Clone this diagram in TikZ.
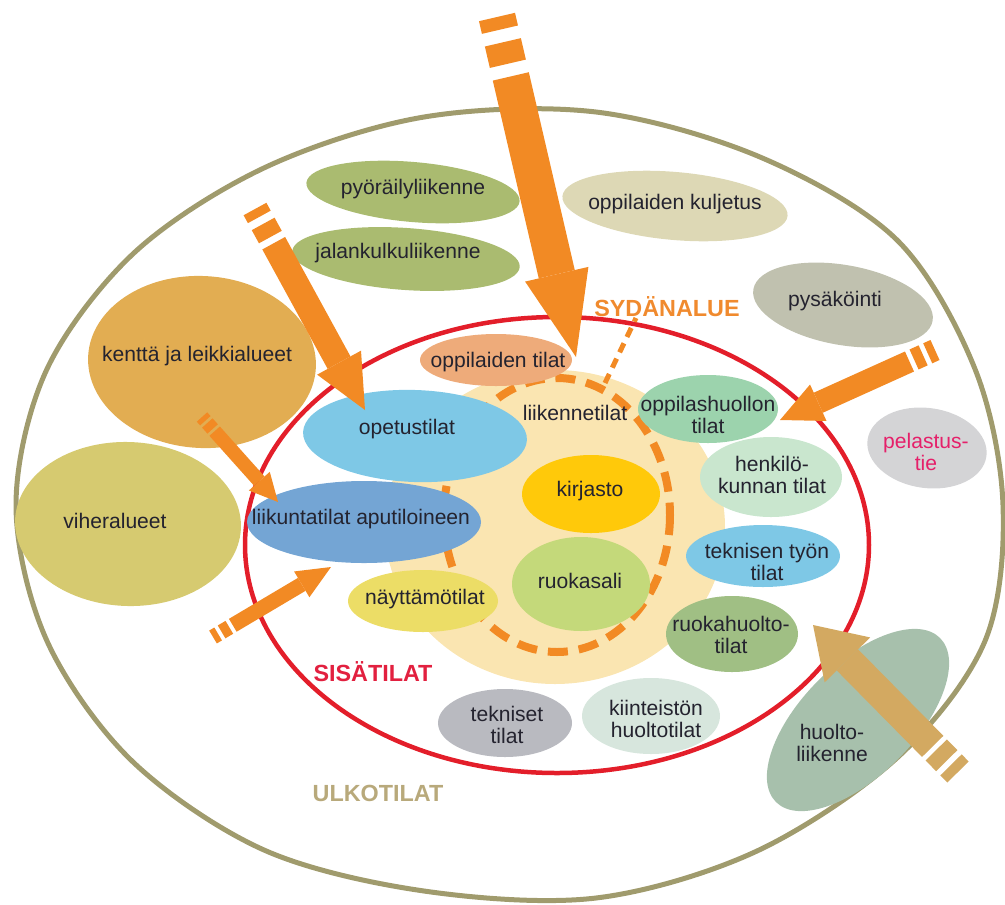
\documentclass[tikz,border=0pt]{standalone}
\usepackage{fontspec}
\setmainfont{Liberation Sans}
\usetikzlibrary{arrows.meta}

\definecolor{ulkoline}{HTML}{A09B6D}
\definecolor{ulkotext}{HTML}{B8A97B}
\definecolor{sisaline}{HTML}{E31E2A}
\definecolor{sisatext}{HTML}{E2203F}
\definecolor{sydantext}{HTML}{F08A2E}
\definecolor{arrorange}{HTML}{F28A24}
\definecolor{arrtan}{HTML}{D3A961}
\definecolor{sydanbg}{HTML}{FAE5B1}
\definecolor{ink}{HTML}{24232F}
\definecolor{pyoC}{HTML}{AABB70}
\definecolor{kuljC}{HTML}{DDD8B5}
\definecolor{pysC}{HTML}{C0C1AF}
\definecolor{pelC}{HTML}{D4D4D6}
\definecolor{peltext}{HTML}{E5206A}
\definecolor{kenttaC}{HTML}{E2AD52}
\definecolor{viherC}{HTML}{D6CA70}
\definecolor{huoltoC}{HTML}{A7C0AC}
\definecolor{opetusC}{HTML}{7EC8E6}
\definecolor{liikuntaC}{HTML}{74A5D4}
\definecolor{optilaC}{HTML}{EEAB7A}
\definecolor{ophuoC}{HTML}{9CD3AD}
\definecolor{henkC}{HTML}{C9E6CE}
\definecolor{ruokahC}{HTML}{A0BF84}
\definecolor{kirjC}{HTML}{FFC90A}
\definecolor{ruokasC}{HTML}{C4D97A}
\definecolor{nayttC}{HTML}{ECDD66}
\definecolor{teknC}{HTML}{B9BAC0}
\definecolor{kiintC}{HTML}{D7E6DD}

\begin{document}
\begin{tikzpicture}[
        x=0.02cm, y=-0.02cm,
        every node/.style={font=\fontsize{12}{13}\selectfont, text=ink},
        zl/.style={align=center, inner sep=0pt},
        zone/.style={font=\bfseries\fontsize{13.3}{15}\selectfont, inner sep=0pt},
        ring/.style={draw=arrorange, line width=0.16cm, dash pattern=on 0.4cm off 0.22cm},
        fat/.style n args={3}{line cap=butt, line width=#1cm,
            -{Triangle[length=#2cm, width=#3cm, line width=0pt]}},
        tailed/.style n args={4}{dash pattern=on #1cm off #2cm on #3cm off #4cm on 40cm off 1cm}
    ]
    \useasboundingbox (0,0) rectangle (1005,904);

    % ulkotilat: outer boundary, a slightly egg-shaped oval
    \draw[ulkoline, line width=0.1cm] plot[smooth cycle, tension=0.55] coordinates {
        (1003,505) (975,369) (897,240) (760,157) (596,112) (424,117)
        (266,167) (135,252) (47,369) (16,505) (47,641) (132,761)
        (264,850) (424,891) (596,898) (757,851) (898,757) (985,641)};

    % outdoor areas
    \fill[pyoC, rotate around={-5:(413,192)}] (413,192) ellipse [x radius=107, y radius=30];
    \fill[pyoC, rotate around={-4:(406,259)}] (406,259) ellipse [x radius=114, y radius=31];
    \fill[kuljC, rotate around={-5:(675,206)}] (675,206) ellipse [x radius=113, y radius=34];
    \fill[pysC, rotate around={-10:(843,305)}] (843,305) ellipse [x radius=91, y radius=40];
    \fill[pelC, rotate around={-8:(927,448)}] (927,448) ellipse [x radius=60, y radius=40];
    \fill[kenttaC, rotate around={-3:(202,362)}] (202,362) ellipse [x radius=114, y radius=86];
    \fill[viherC, rotate around={-2:(128,524)}] (128,524) ellipse [x radius=113, y radius=82];
    \fill[huoltoC, rotate around={45:(858,720)}] (858,720) ellipse [x radius=116, y radius=56];

    % sisatilat
    \draw[sisaline, line width=0.09cm] (557,545) ellipse [x radius=312, y radius=228];

    % sydanalue
    \fill[sydanbg] (555,527) ellipse [x radius=170, y radius=157];
    \draw[ring] (557,515) ellipse [x radius=113, y radius=137];
    \draw[ring, line width=0.1cm, dash pattern=on 0.2cm off 0.14cm] (605,383) -- (636,318);

    % indoor spaces
    \fill[optilaC] (496,360) ellipse [x radius=76, y radius=26];
    \fill[opetusC, rotate around={-2:(415,436)}] (415,436) ellipse [x radius=112, y radius=46];
    \fill[liikuntaC] (364,522) ellipse [x radius=117, y radius=41];
    \fill[nayttC] (423,601) ellipse [x radius=75, y radius=31];
    \fill[ophuoC] (708,409) ellipse [x radius=70, y radius=34];
    \fill[henkC] (771,477) ellipse [x radius=71, y radius=40];
    \fill[opetusC] (763,556) ellipse [x radius=77, y radius=31];
    \fill[ruokahC] (732,634) ellipse [x radius=66, y radius=38];
    \fill[kirjC] (591,494) ellipse [x radius=69, y radius=39];
    \fill[ruokasC] (581,584) ellipse [x radius=69, y radius=47];
    \fill[teknC] (505,723) ellipse [x radius=67, y radius=34];
    \fill[kiintC] (651,716) ellipse [x radius=69, y radius=38];

    % texts
    \node[zl] (pyoraily) at (413,189) {pyöräilyliikenne};
    \node[zl] (jalankulku) at (398,253) {jalankulkuliikenne};
    \node[zl] (kuljetus) at (675,204) {oppilaiden kuljetus};
    \node[zl] (pysakointi) at (835,301) {pysäköinti};
    \node[zl, text=peltext] (pelastus) at (926,452) {pelastus-\\tie};
    \node[zl] (kentta) at (197,356) {kenttä ja leikkialueet};
    \node[zl] (viher) at (115,521) {viheralueet};
    \node[zl] (huolto) at (832,743) {huolto-\\liikenne};

    \node[zl] (optila) at (498,362) {oppilaiden tilat};
    \node[zl] (opetus) at (407,429) {opetustilat};
    \node[zl] (liikunta) at (361,519) {liikuntatilat aputiloineen};
    \node[zl] (naytto) at (425,599) {näyttämötilat};
    \node[zl] (liikenne) at (575,413) {liikennetilat};
    \node[zl] (ophuolto) at (708,415) {oppilashuollon\\tilat};
    \node[zl] (henkilo) at (772,475) {henkilö-\\kunnan tilat};
    \node[zl] (tektyo) at (767,562) {teknisen työn\\tilat};
    \node[zl] (ruokah) at (731,635) {ruokahuolto-\\tilat};
    \node[zl] (kirjasto) at (590,491) {kirjasto};
    \node[zl] (ruokasali) at (580,581) {ruokasali};
    \node[zl] (tekn) at (507,725) {tekniset\\tilat};
    \node[zl] (kiint) at (656,719) {kiinteistön\\huoltotilat};

    \node[zone, text=sydantext] (sydan) at (667,307) {SYDÄNALUE};
    \node[zone, text=sisatext] (sisa) at (373,672) {SISÄTILAT};
    \node[zone, text=ulkotext] (ulko) at (378,793) {ULKOTILAT};

    % access arrows
    \coordinate (inTop) at (497,17);      \coordinate (tipTop) at (576,357);
    \coordinate (inNW) at (255,209);      \coordinate (tipNW) at (365,410);
    \coordinate (inKentta) at (202,417);  \coordinate (tipKentta) at (278,502);
    \coordinate (inSW) at (213,637);      \coordinate (tipSW) at (331,567);
    \coordinate (inE) at (935,350);       \coordinate (tipE) at (780,420);
    \coordinate (inHuolto) at (958,772);  \coordinate (tipHuolto) at (813,625);

    \draw[arrorange, fat={0.74}{1.70}{1.30}, tailed={0.26}{0.26}{0.44}{0.26}] (inTop) -- (tipTop);
    \draw[arrorange, fat={0.52}{1.08}{1.00}, tailed={0.18}{0.16}{0.30}{0.14}] (inNW) -- (tipNW);
    \draw[arrorange, fat={0.28}{0.56}{0.56}, tailed={0.10}{0.06}{0.16}{0.06}] (inKentta) -- (tipKentta);
    \draw[arrorange, fat={0.30}{0.68}{0.60}, tailed={0.12}{0.08}{0.18}{0.08}] (inSW) -- (tipSW);
    \draw[arrorange, fat={0.44}{0.84}{0.80}, tailed={0.16}{0.10}{0.20}{0.10}] (inE) -- (tipE);
    \draw[arrtan, fat={0.60}{0.98}{1.28}, tailed={0.20}{0.12}{0.30}{0.10}] (inHuolto) -- (tipHuolto);
\end{tikzpicture}
\end{document}
